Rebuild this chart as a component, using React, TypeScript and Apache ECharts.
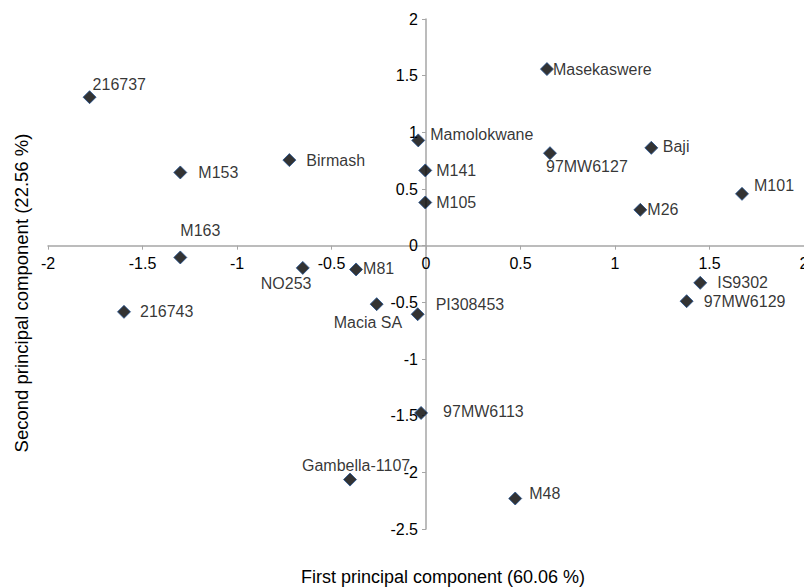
import React, { useEffect, useRef } from "react";
import * as echarts from "echarts";

// Genotype names and principal component scores
const names = [
  "216737", "M153", "Birmash", "M163", "NO253", "M81", "Macia SA", "PI308453",
  "216743", "Mamolokwane", "M141", "M105", "Masekaswere", "97MW6127", "Baji",
  "M101", "M26", "IS9302", "97MW6129", "97MW6113", "Gambella-1107", "M48",
];
const pc1 = [
  -1.78, -1.30, -0.723, -1.30, -0.652, -0.37, -0.261, -0.044,
  -1.598, -0.041, -0.004, -0.004, 0.64, 0.656, 1.192,
  1.672, 1.134, 1.451, 1.379, -0.026, -0.402, 0.472,
];
const pc2 = [
  1.31, 0.646, 0.755, -0.104, -0.196, -0.21, -0.516, -0.605,
  -0.584, 0.929, 0.664, 0.381, 1.558, 0.816, 0.863,
  0.457, 0.316, -0.328, -0.49, -1.476, -2.064, -2.231,
];

const xMin = -2, xMax = 2, xStep = 0.5;
const yMin = -2.5, yMax = 2, yStep = 0.5;

const xTitle = "First principal component (60.06 %)";
const yTitle = "Second principal component (22.56 %)";

// label placement (pixel offsets of label's left edge / vertical centre from the marker)
const labelOffsets: [number, number][] = [
  [3, -13], [18, 0], [17, 0], [0, -27], [-42, 16], [7, -1], [-43, 18], [18, -10],
  [16, 0], [12, -6], [11, 0], [11, 0], [6, 0], [-4, 13], [11.5, -1],
  [12, -8], [7, 0], [17, 0], [17, 0], [22, -1], [-48, -14], [14, -5],
];

const FONT = "'Liberation Sans', Arial, sans-serif";
const W = 804, H = 588;
const GRID = { left: 48, right: 0, top: 19, bottom: 59 };

export default function App() {
  const ref = useRef<HTMLDivElement>(null);
  useEffect(() => {
    if (!ref.current) return;
    const chart = echarts.init(ref.current, undefined, { renderer: "svg" });
    const gw = W - GRID.left - GRID.right;
    const gh = H - GRID.top - GRID.bottom;
    // place the axes so that they cross at the origin (0, 0)
    const xAxisOffset = -gh * (0 - yMin) / (yMax - yMin);
    const yAxisOffset = -gw * (0 - xMin) / (xMax - xMin);
    const data = names.map((n, i) => ({
      name: n,
      value: [pc1[i], pc2[i]],
      label: {
        show: true,
        formatter: n,
        position: "inside",
        align: "left",
        verticalAlign: "middle",
        offset: labelOffsets[i],
        color: "#000",
        fontSize: 16,
        fontFamily: FONT,
      },
    }));
    chart.setOption({
      animation: false,
      grid: { ...GRID, containLabel: false, outerBoundsMode: "none" },
      xAxis: {
        type: "value",
        position: "bottom",
        offset: xAxisOffset,
        min: xMin,
        max: xMax,
        interval: xStep,
        splitLine: { show: false },
        axisLine: { onZero: false, lineStyle: { color: "#a6a6a6", width: 1.5 } },
        axisTick: { show: true, length: 4, lineStyle: { color: "#a6a6a6" } },
        axisLabel: { color: "#000", fontSize: 16, fontFamily: FONT, margin: 10 },
      },
      yAxis: {
        type: "value",
        position: "left",
        offset: yAxisOffset,
        min: yMin,
        max: yMax,
        interval: yStep,
        splitLine: { show: false },
        axisLine: { onZero: false, lineStyle: { color: "#a6a6a6", width: 1.5 } },
        axisTick: { show: true, length: 4, lineStyle: { color: "#a6a6a6" } },
        axisLabel: { color: "#000", fontSize: 16, fontFamily: FONT, margin: 8 },
      },
      graphic: [
        {
          type: "text",
          x: 443,
          y: 577,
          style: {
            text: xTitle,
            font: `18px ${FONT}`,
            fill: "#000",
            align: "center",
            verticalAlign: "middle",
            textAlign: "center",
            textVerticalAlign: "middle",
          },
        },
        {
          type: "text",
          x: 21,
          y: 293,
          rotation: Math.PI / 2,
          style: {
            text: yTitle,
            font: `18.5px ${FONT}`,
            fill: "#000",
            align: "center",
            verticalAlign: "middle",
            textAlign: "center",
            textVerticalAlign: "middle",
          },
        },
      ],
      series: [
        {
          type: "scatter",
          symbol: "diamond",
          symbolSize: 13,
          itemStyle: { color: "#000", borderColor: "#1f4f8f", borderWidth: 1 },
          emphasis: { disabled: true },
          data,
        },
      ],
    });
    return () => chart.dispose();
  }, []);
  return (
    <div
      ref={ref}
      style={{ position: "fixed", left: 0, top: 0, width: W, height: H, background: "#fff" }}
    />
  );
}
